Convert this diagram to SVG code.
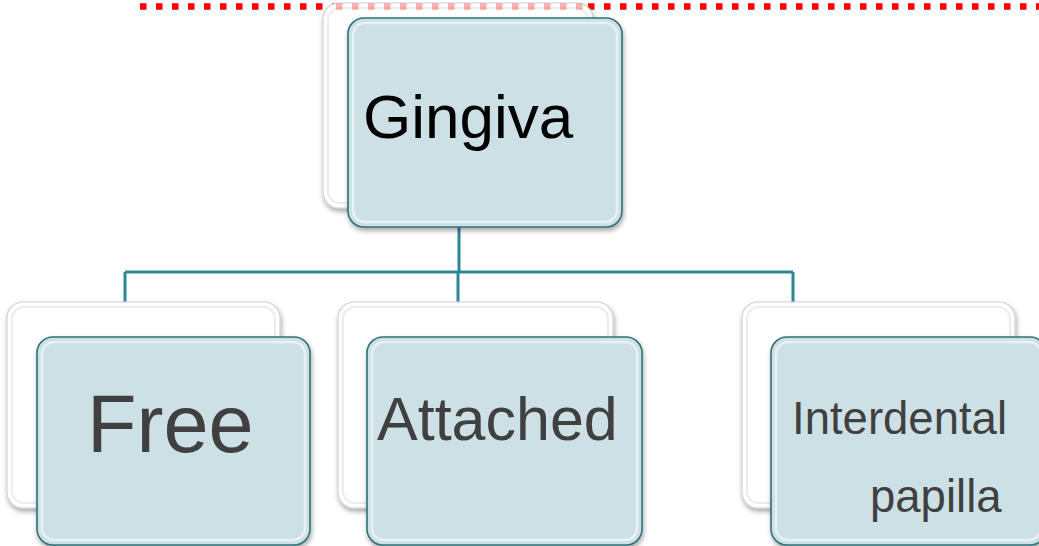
<svg xmlns="http://www.w3.org/2000/svg" width="1039" height="546" viewBox="0 0 1039 546">
<defs>
<style>
.back{fill:#ffffff;stroke:#d2d2d2;stroke-width:1.2}
.backin{fill:none;stroke:#ececec;stroke-width:2}
.front{fill:#cde0e5;stroke:#2f7178;stroke-width:1.6}
.frontin{fill:none;stroke:#ffffff;stroke-opacity:0.55;stroke-width:2.5}
.conn{fill:none;stroke:#2b8893;stroke-width:3}
.lbl{font-family:"Liberation Sans",Arial,sans-serif;fill:#404040}
</style>
<filter id="sh" x="-10%" y="-10%" width="125%" height="130%">
<feGaussianBlur in="SourceAlpha" stdDeviation="2.5"/>
<feOffset dx="1" dy="3" result="b"/>
<feComponentTransfer><feFuncA type="linear" slope="0.35"/></feComponentTransfer>
<feMerge><feMergeNode/><feMergeNode in="SourceGraphic"/></feMerge>
</filter>
</defs>
<rect width="1039" height="546" fill="#ffffff"/>
<line x1="140" y1="6.5" x2="1039" y2="6.5" stroke="#ff0000" stroke-width="6.5" stroke-dasharray="6.5 9.5"/>
<g id="connectors">
<path class="conn" d="M459 227 V272 M125 272 H793 M125 272 V302 M458 272 V302 M793 272 V302"/>
</g>
<g id="node-gingiva">
<rect class="back" x="323" y="3" width="270" height="205" rx="16" filter="url(#sh)"/>
<rect class="backin" x="328" y="8" width="260" height="195" rx="12"/>
<line x1="330" y1="6.5" x2="588" y2="6.5" stroke="#ff0000" stroke-opacity="0.3" stroke-width="6.5" stroke-dasharray="6.5 9.5" stroke-dashoffset="-6"/>
<rect class="front" x="348" y="18" width="274" height="209" rx="16" filter="url(#sh)"/>
<rect class="frontin" x="353" y="23" width="264" height="199" rx="12"/>
<text x="363" y="138" font-family="'Liberation Sans',Arial,sans-serif" font-size="62" fill="#000000">Gingiva</text>
</g>
<g id="node-free">
<rect class="back" x="7" y="302" width="273" height="206" rx="16" filter="url(#sh)"/>
<rect class="backin" x="12" y="307" width="263" height="196" rx="12"/>
<rect class="front" x="37" y="337" width="273" height="208" rx="16" filter="url(#sh)"/>
<rect class="frontin" x="42" y="342" width="263" height="198" rx="12"/>
<text class="lbl" x="87" y="452" font-size="81">Free</text>
</g>
<g id="node-attached">
<rect class="back" x="338" y="302" width="275" height="206" rx="16" filter="url(#sh)"/>
<rect class="backin" x="343" y="307" width="265" height="196" rx="12"/>
<rect class="front" x="367" y="337" width="275" height="208" rx="16" filter="url(#sh)"/>
<rect class="frontin" x="372" y="342" width="265" height="198" rx="12"/>
<text class="lbl" x="377" y="440" font-size="61">Attached</text>
</g>
<g id="node-interdental">
<rect class="back" x="742" y="302" width="273" height="206" rx="16" filter="url(#sh)"/>
<rect class="backin" x="747" y="307" width="263" height="196" rx="12"/>
<rect class="front" x="771" y="337" width="275" height="208" rx="16" filter="url(#sh)"/>
<rect class="frontin" x="776" y="342" width="265" height="198" rx="12"/>
<text class="lbl" x="792" y="434" font-size="45.5">Interdental</text>
<text class="lbl" x="870" y="512" font-size="45.5">papilla</text>
</g>
</svg>
